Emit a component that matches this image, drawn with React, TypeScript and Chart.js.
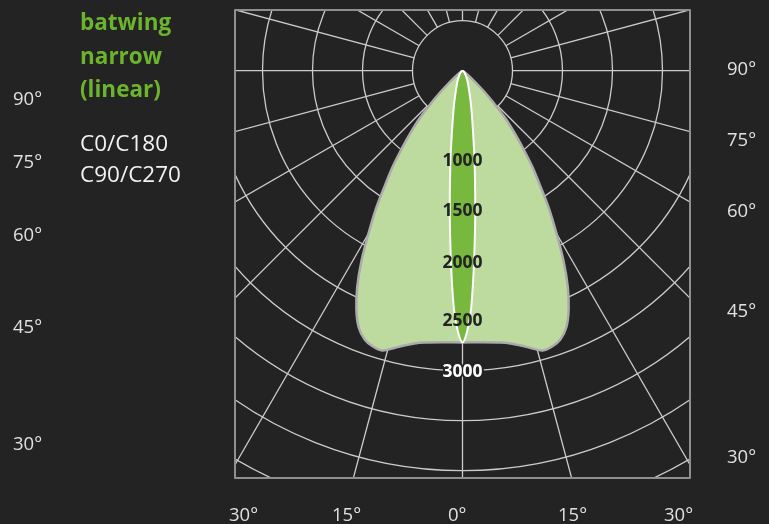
import React, { useEffect, useRef } from 'react';
import { Chart, registerables } from 'chart.js';

Chart.register(...registerables);

// Luminous intensity (cd) versus angle from the downward vertical (degrees), symmetric curves
const anglesC0C180 = [0, 4, 8, 10, 12, 14, 16, 18, 20, 22, 24, 26, 28, 30, 32, 34, 36, 38, 40, 42, 44, 46, 48, 50, 55, 60];
const valuesC0C180 = [2717, 2722, 2745, 2770, 2810, 2860, 2910, 2900, 2860, 2770, 2610, 2400, 2150, 1880, 1640, 1390, 1190, 980, 800, 640, 450, 300, 180, 100, 30, 0];
const anglesC90C270 = [0, 1, 2, 3, 4, 5, 6, 7, 8, 10, 12, 15, 20, 25, 30, 40, 50, 60, 75, 90];
const valuesC90C270 = [2717, 2610, 2400, 2070, 1740, 1460, 1210, 1010, 850, 600, 450, 310, 180, 120, 80, 40, 20, 8, 2, 0];

const ringValues = [500, 1000, 1500, 2000, 2500, 3000, 3500, 4000, 4500, 5000];
const ringLabelValues = [1000, 1500, 2000, 2500, 3000];
const radialStepDeg = 15;

const titleLines = ['batwing', 'narrow', '(linear)'];
const seriesNames = ['C0/C180', 'C90/C270'];
const leftAngleLabels = ['90°', '75°', '60°', '45°', '30°'];
const rightAngleLabels = ['90°', '75°', '60°', '45°', '30°'];
const bottomAngleLabels = ['30°', '15°', '0°', '15°', '30°'];

const FONT = "'Open Sans', 'DejaVu Sans', sans-serif";
const BG = '#232323';

function polar(deg: number, v: number) {
  const r = (deg * Math.PI) / 180;
  return { x: v * Math.sin(r), y: -v * Math.cos(r) };
}

function toPoints(angles: number[], values: number[]) {
  const pts: { x: number; y: number }[] = [];
  for (let i = angles.length - 1; i > 0; i--) pts.push(polar(-angles[i], values[i]));
  for (let i = 0; i < angles.length; i++) pts.push(polar(angles[i], values[i]));
  return pts;
}

const labelNudge = [-10, -10, -8, 0, 1.5];

const gridPlugin = {
  id: 'polarGrid',
  beforeDatasetsDraw(chart: any) {
    const { ctx, chartArea: a, scales } = chart;
    const xs = scales.x, ys = scales.y;
    const cx = xs.getPixelForValue(0);
    const cy = ys.getPixelForValue(0);
    const k = (xs.getPixelForValue(1000) - cx) / 1000;
    ctx.save();
    ctx.beginPath();
    ctx.rect(a.left, a.top, a.right - a.left, a.bottom - a.top);
    ctx.clip();
    ctx.strokeStyle = '#cccccc';
    ctx.lineWidth = 1.3;
    for (const v of ringValues) {
      ctx.beginPath();
      ctx.arc(cx, cy, v * k, 0, Math.PI * 2);
      ctx.stroke();
    }
    const r0 = ringValues[0] * k;
    for (let d = 0; d < 360; d += radialStepDeg) {
      const t = (d * Math.PI) / 180;
      const sx = Math.sin(t), sy = Math.cos(t);
      ctx.beginPath();
      ctx.moveTo(cx + r0 * sx, cy + r0 * sy);
      ctx.lineTo(cx + 1200 * sx, cy + 1200 * sy);
      ctx.stroke();
    }
    ctx.restore();
  },
  afterDatasetsDraw(chart: any) {
    const { ctx, chartArea: a, scales } = chart;
    const xs = scales.x, ys = scales.y;
    const cx = xs.getPixelForValue(0);
    ctx.save();
    ctx.font = `bold 17.5px ${FONT}`;
    ctx.textAlign = 'center';
    ctx.textBaseline = 'middle';
    ctx.lineJoin = 'round';
    ringLabelValues.forEach((v, i) => {
      const y = ys.getPixelForValue(-v) + labelNudge[i];
      const inside = v < valuesC0C180[0];
      if (!inside) {
        ctx.strokeStyle = BG;
        ctx.lineWidth = 4;
        ctx.strokeText(String(v), cx, y);
      }
      ctx.fillStyle = inside ? '#232323' : '#ffffff';
      ctx.fillText(String(v), cx, y);
    });
    ctx.strokeStyle = '#8f8f8f';
    ctx.lineWidth = 2;
    ctx.strokeRect(a.left, a.top, a.right - a.left, a.bottom - a.top);
    ctx.restore();
  },
};

function Text({ x, baseline, size, color, weight, children }: any) {
  return (
    <div
      style={{
        position: 'absolute',
        left: x,
        top: baseline - size * 0.888,
        fontFamily: FONT,
        fontSize: size,
        lineHeight: 1,
        color,
        fontWeight: weight || 400,
        whiteSpace: 'nowrap',
      }}
    >
      {children}
    </div>
  );
}

export default function App() {
  const canvasRef = useRef<HTMLCanvasElement | null>(null);

  useEffect(() => {
    document.body.style.margin = '0';
    document.body.style.background = BG;
    const canvas = canvasRef.current!;
    const chart = new Chart(canvas, {
      type: 'scatter',
      data: {
        datasets: [
          {
            label: seriesNames[0],
            data: toPoints(anglesC0C180, valuesC0C180),
            showLine: true,
            fill: 'shape',
            backgroundColor: '#bedb9f',
            borderColor: '#ababab',
            borderWidth: 2.5,
            pointRadius: 0,
            tension: 0.35,
            order: 2,
          } as any,
          {
            label: seriesNames[1],
            data: toPoints(anglesC90C270, valuesC90C270),
            showLine: true,
            fill: 'shape',
            backgroundColor: '#78b83f',
            borderColor: '#ffffff',
            borderWidth: 2,
            pointRadius: 0,
            tension: 0.35,
            order: 1,
          } as any,
        ],
      },
      options: {
        responsive: false,
        animation: false,
        events: [],
        layout: { padding: { left: 235, top: 10, right: 79, bottom: 46 } },
        scales: {
          x: { type: 'linear', display: false, min: -2275, max: 2275 },
          y: { type: 'linear', display: false, min: -4073, max: 607 },
        },
        plugins: { legend: { display: false }, tooltip: { enabled: false } },
      },
      plugins: [gridPlugin],
    });
    return () => chart.destroy();
  }, []);

  const leftBase = [105, 168, 241, 333, 450];
  const rightBase = [75, 146, 217, 317, 463];
  const bottomX = [229, 332, 448, 558, 664];
  return (
    <div style={{ position: 'relative', width: 769, height: 524, background: BG, overflow: 'hidden' }}>
      <canvas ref={canvasRef} width={769} height={524} style={{ position: 'absolute', left: 0, top: 0 }} />
      {titleLines.map((t, i) => (
        <Text key={'t' + i} x={80} baseline={31 + i * 33.5} size={22.5} color="#6cb42e" weight={700}>
          {t}
        </Text>
      ))}
      {seriesNames.map((t, i) => (
        <Text key={'s' + i} x={80} baseline={151.5 + i * 31} size={22.5} color="#f2f2f2">
          {t}
        </Text>
      ))}
      {leftAngleLabels.map((t, i) => (
        <Text key={'l' + i} x={13} baseline={leftBase[i]} size={18.5} color="#e0e0e0">
          {t}
        </Text>
      ))}
      {rightAngleLabels.map((t, i) => (
        <Text key={'r' + i} x={727} baseline={rightBase[i]} size={18.5} color="#e0e0e0">
          {t}
        </Text>
      ))}
      {bottomAngleLabels.map((t, i) => (
        <Text key={'b' + i} x={bottomX[i]} baseline={521.5} size={18.5} color="#e0e0e0">
          {t}
        </Text>
      ))}
    </div>
  );
}
